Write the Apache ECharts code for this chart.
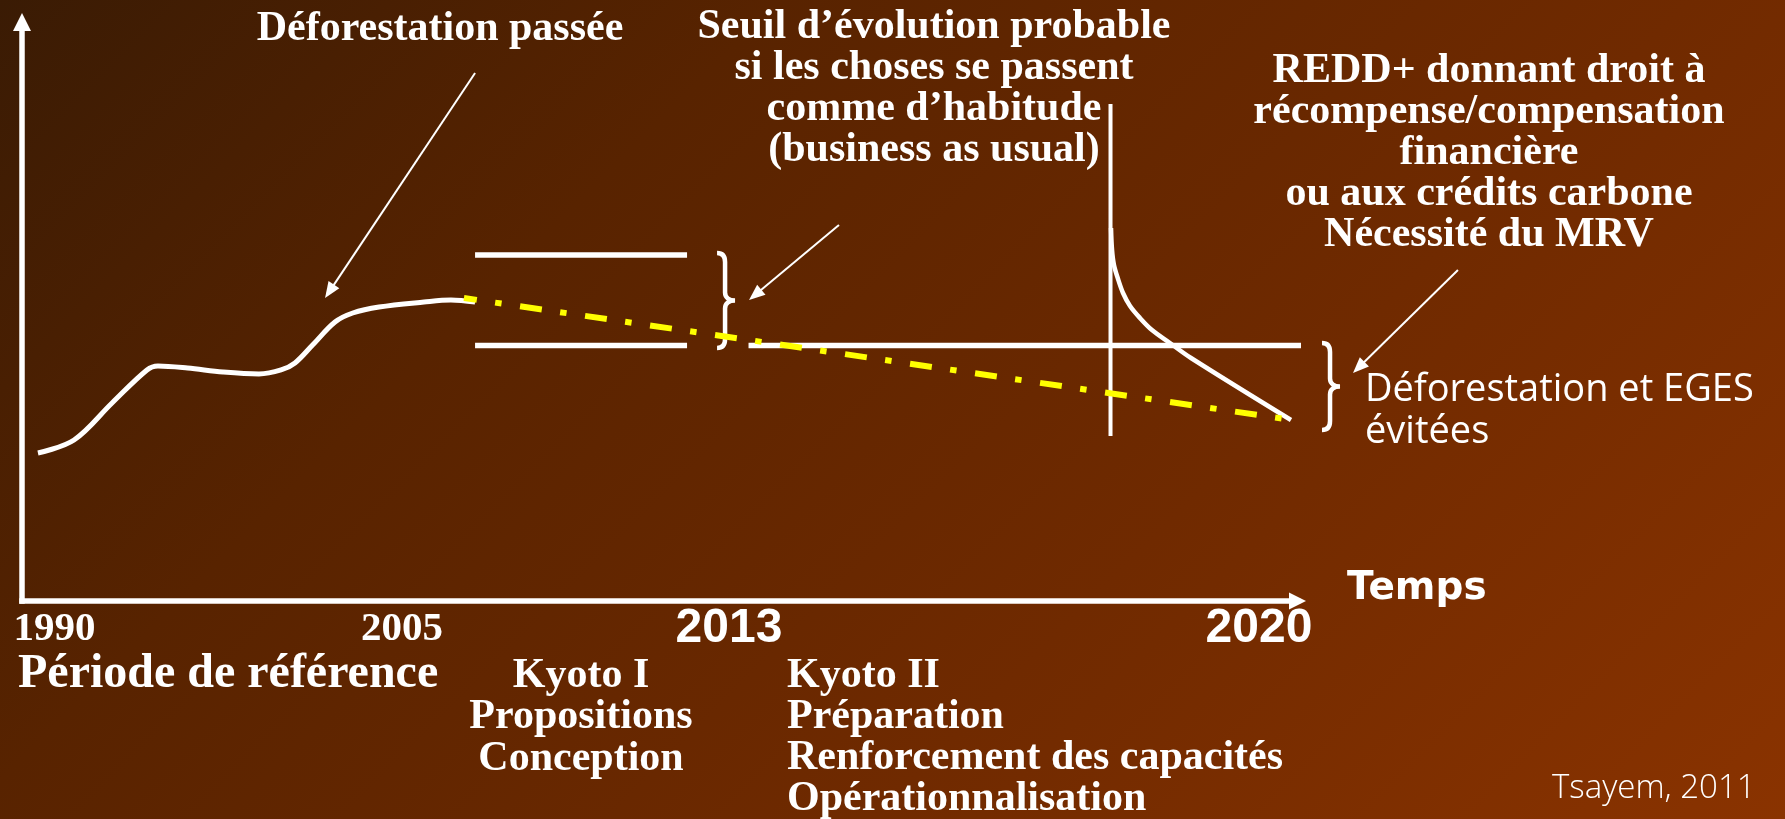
<!DOCTYPE html>
<html><head><meta charset="utf-8">
<script src="https://cdn.jsdelivr.net/npm/echarts@6/dist/echarts.min.js"></script>
<style>html,body{margin:0;padding:0;background:#5a2400;overflow:hidden}#c{width:1785px;height:819px}</style>
</head><body><div id="c"></div>
<script>
// x: schematic time index (0 = origin of the time axis, 100 = end of the axis)
// y: deforestation / emission level index (0 = time axis, 100 = top of the vertical axis)
const pastDeforestation = [[1.25,25.56],[4.08,27.81],[7.06,34.20],[9.80,39.90],[10.66,40.59],[12.98,40.24],[15.76,39.55],[18.58,39.21],[20.31,39.90],[21.40,41.11],[22.78,44.21],[24.54,48.19],[25.93,49.74],[27.99,50.78],[31.52,51.64],[33.63,51.99],[35.52,51.64]];
const bandUpper = [[35.52,59.76],[52.14,59.76]];
const bandLower = [[35.52,44.13],[52.14,44.13]];
const bauLevel = [[56.96,44.13],[100.75,44.13]];
const projectedTrend = [[34.65,52.33],[99.57,31.26]];
const reddStart = [[85.34,85.84],[85.34,28.50]];
const reddReduction = [[85.38,64.42],[85.46,60.62],[85.61,58.03],[85.93,55.61],[86.32,53.20],[86.87,50.95],[87.65,48.88],[88.59,46.80],[90.00,44.56],[91.65,41.97],[99.49,31.26]];
// braces: [x, yTop, yBottom]
const braces = [[55.12,60.10,43.70],[102.55,44.56,29.53]];
// pointer arrows: [xFrom, yFrom, xTo, yTo]
const pointers = [[35.52,91.19,23.76,52.33],[64.05,64.94,57.00,51.99],[112.58,57.17,104.35,39.38]];
const yearTickValues = [2.55,29.79,55.43,96.98];
const yearTickLabels = ['1990','2005','2013','2020'];

const noteHistory = ['Déforestation passée'];
const noteBau = ['Seuil d’évolution probable','si les choses se passent','comme d’habitude','(business as usual)'];
const noteRedd = ['REDD+ donnant droit à','récompense/compensation','financière','ou aux crédits carbone','Nécessité du MRV'];
const noteAvoided = ['Déforestation et EGES','évitées'];
const axisTitle = 'Temps';
const periodRef = ['Période de référence'];
const periodKyoto1 = ['Kyoto I','Propositions','Conception'];
const periodKyoto2 = ['Kyoto II','Préparation','Renforcement des capacités','Opérationnalisation'];
const source = 'Tsayem, 2011';

const chart = echarts.init(document.getElementById('c'), null, {renderer:'canvas'});
const serif = '"Liberation Serif", "Times New Roman", serif';
const W = '#ffffff';

function txt(lines, x, y, font, align, lh) {
  return {type:'text', x:x, y:y - lh/2, silent:true, z:10,
    style:{text:lines.join('\n'), font:font, fill:W, textAlign:align, textVerticalAlign:'top', lineHeight:lh}};
}

const whiteLine = (name, data, width, smooth) => ({
  type:'line', name:name, data:data, symbol:'none', clip:false, smooth:smooth||false,
  lineStyle:{color:W, width:width}, z:3, silent:true
});

chart.setOption({
  animation:false,
  backgroundColor:{type:'linear', x:0, y:0, x2:1302, y2:1302, global:true,
    colorStops:[{offset:0,color:'#3a1b04'},{offset:0.3,color:'#582300'},{offset:0.65,color:'#702a00'},{offset:1,color:'#8a3300'}]},
  grid:{left:22, top:22, right:487.5, bottom:218, containLabel:false},
  xAxis:{type:'value', min:0, max:100,
    axisLine:{show:true, symbol:['none','triangle'], symbolSize:[17,17], lineStyle:{color:W, width:5.5, cap:'square'}},
    axisTick:{show:false}, splitLine:{show:false},
    axisLabel:{show:true, customValues:yearTickValues, margin:28, verticalAlign:'middle', color:W,
      formatter:(v)=>{ const k = yearTickValues.indexOf(v); const lab = yearTickLabels[k];
        return k >= 2 ? '{b|'+lab+'}' : '{a|'+lab+'}'; },
      rich:{a:{fontFamily:serif, fontWeight:'bold', fontSize:41, color:W, lineHeight:50, verticalAlign:'middle'},
            b:{fontFamily:'"Liberation Sans", Arial, sans-serif', fontWeight:'bold', fontSize:48, color:W, lineHeight:50, verticalAlign:'middle'}}}
  },
  yAxis:{type:'value', min:0, max:100,
    axisLine:{show:true, symbol:['none','triangle'], symbolSize:[18,18], lineStyle:{color:W, width:5.5, cap:'square'}},
    axisTick:{show:false}, splitLine:{show:false}, axisLabel:{show:false}
  },
  series:[
    whiteLine('Déforestation passée', pastDeforestation, 5, 0.35),
    whiteLine('Seuil haut', bandUpper, 5.5),
    whiteLine('Seuil bas', bandLower, 5.5),
    whiteLine('Business as usual', bauLevel, 5.5),
    whiteLine('REDD+', reddStart, 4),
    whiteLine('Réduction', reddReduction, 4.5, 0.35),
    {type:'custom', name:'accolades', data:braces, encode:{x:0, y:[1,2]}, z:4, silent:true,
      renderItem:(params, api)=>{
        const t = api.coord([api.value(0), api.value(1)]);
        const b = api.coord([api.value(0), api.value(2)]);
        const x = t[0], y0 = t[1], y1 = b[1], ym = (y0+y1)/2;
        const d = 'M'+(x-8)+','+y0+' C'+(x-3)+','+y0+' '+x+','+(y0+3)+' '+x+','+(y0+9)+
          ' L'+x+','+(ym-8)+' C'+x+','+(ym-3)+' '+(x+4)+','+ym+' '+(x+10)+','+ym+
          ' C'+(x+4)+','+ym+' '+x+','+(ym+3)+' '+x+','+(ym+8)+
          ' L'+x+','+(y1-9)+' C'+x+','+(y1-3)+' '+(x-3)+','+y1+' '+(x-8)+','+y1;
        return {type:'path', shape:{pathData:d}, style:{stroke:W, fill:'none', lineWidth:4.5}};
      }},
    {type:'custom', name:'flèches', data:pointers, encode:{x:[0,2], y:[1,3]}, z:4, silent:true,
      renderItem:(params, api)=>{
        const p1 = api.coord([api.value(0), api.value(1)]);
        const p2 = api.coord([api.value(2), api.value(3)]);
        const dx = p2[0]-p1[0], dy = p2[1]-p1[1];
        const len = Math.hypot(dx, dy), ux = dx/len, uy = dy/len;
        const L = 16, H = 6.5;
        const bx = p2[0]-ux*L, by = p2[1]-uy*L;
        return {type:'group', children:[
          {type:'line', shape:{x1:p1[0], y1:p1[1], x2:bx+ux*2, y2:by+uy*2}, style:{stroke:W, lineWidth:2}},
          {type:'polygon', shape:{points:[[p2[0],p2[1]],[bx-uy*H, by+ux*H],[bx+uy*H, by-ux*H]]}, style:{fill:W}}
        ]};
      }},
    {type:'line', name:'Tendance', data:projectedTrend, symbol:'none', clip:false, z:6, silent:true,
      lineStyle:{color:'#ffff00', width:6, type:[22,18.5,6.5,18.7], dashOffset:9}}
  ],
  graphic:[
    txt(noteHistory, 440, 29, 'bold 42px '+serif, 'center', 41),
    txt(noteBau, 934, 27, 'bold 42px '+serif, 'center', 41),
    txt(noteRedd, 1489, 71, 'bold 42px '+serif, 'center', 41),
    txt(noteAvoided, 1365, 390, '38px "Open Sans", sans-serif', 'left', 42),
    txt([axisTitle], 1347, 589, 'bold 39px "DejaVu Sans", sans-serif', 'left', 42),
    txt(periodRef, 18, 675, 'bold 48px '+serif, 'left', 48),
    txt(periodKyoto1, 581, 676, 'bold 42px '+serif, 'center', 41.5),
    txt(periodKyoto2, 787, 676, 'bold 42px '+serif, 'left', 41),
    txt([source], 1552, 789, '300 33px "Open Sans", sans-serif', 'left', 34)
  ]
});
</script></body></html>
